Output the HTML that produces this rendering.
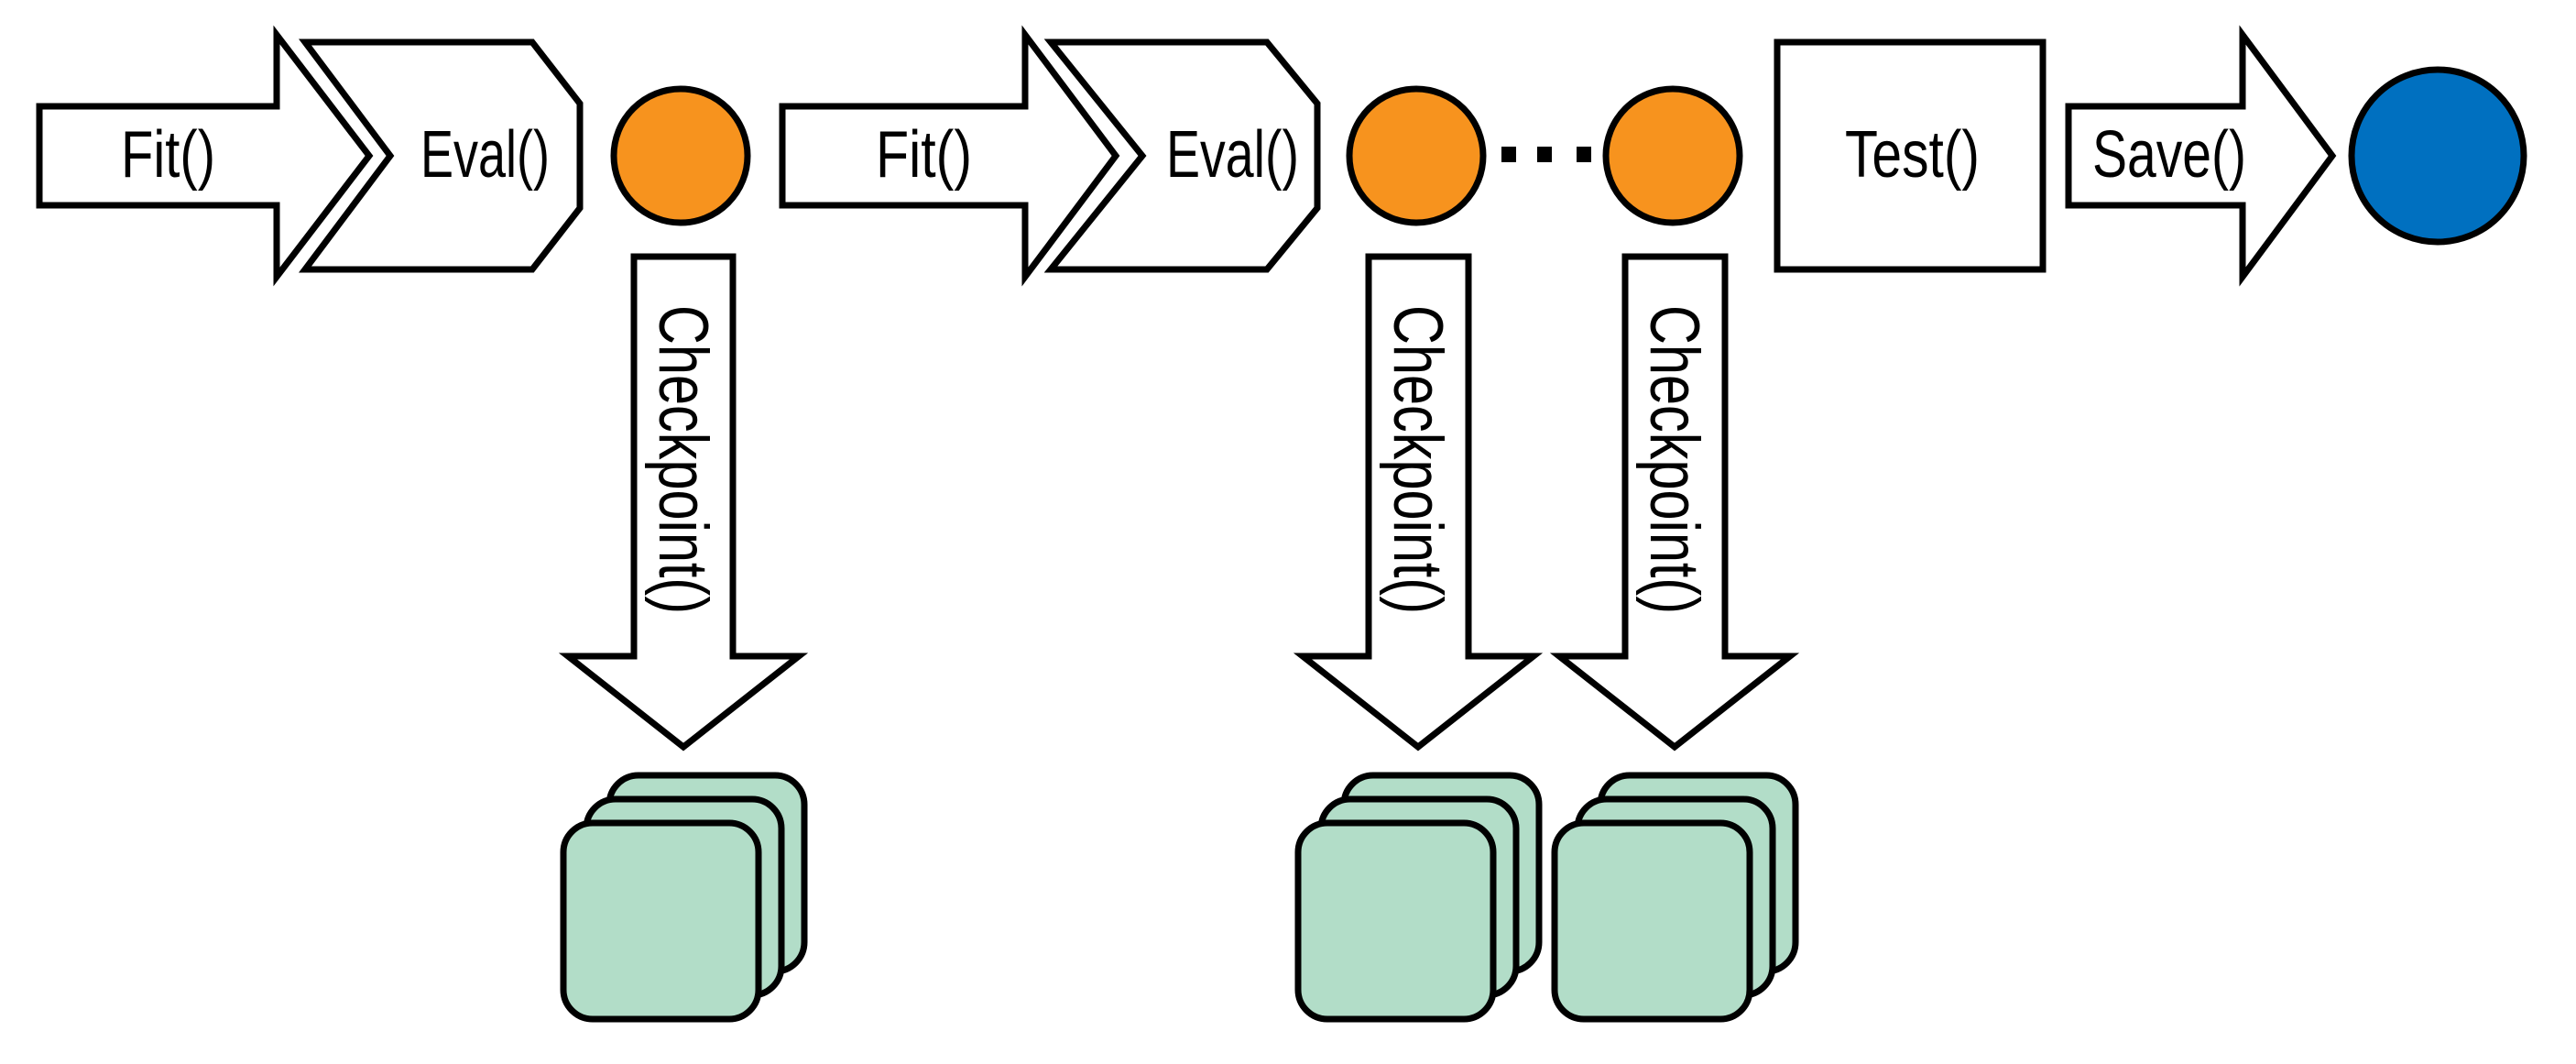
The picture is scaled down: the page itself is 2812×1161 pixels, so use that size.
<!DOCTYPE html>
<html><head><meta charset="utf-8"><style>html,body{margin:0;padding:0;background:#fff}svg{display:block}</style></head>
<body>
<svg width="2812" height="1161" viewBox="0 0 2812 1161" xmlns="http://www.w3.org/2000/svg">
<g fill="#fff" stroke="#000" stroke-width="7" stroke-linejoin="miter" stroke-miterlimit="10">
<polygon points="43,116 302,116 302,38 403,170 302,302 302,224 43,224"/>
<polygon points="333,46 581,46 633,113 633,227 581,294 333,294 426,170"/>
<polygon points="854,116 1119,116 1119,38 1218,170 1119,302 1119,224 854,224"/>
<polygon points="1147,46 1383,46 1438,113 1438,227 1383,294 1147,294 1247,170"/>
<rect x="1940" y="46" width="290" height="248"/>
<polygon points="2258,116 2448,116 2448,38 2546,170 2448,302 2448,224 2258,224"/>
<polygon points="692,280 800,280 800,716 872,716 746,815 620,716 692,716"/>
<polygon points="1494,280 1603,280 1603,716 1674,716 1548,815 1422,716 1494,716"/>
<polygon points="1774,280 1883,280 1883,716 1954,716 1828,815 1702,716 1774,716"/>
</g>
<g stroke="#000" stroke-width="7">
<circle cx="743" cy="170" r="73" fill="#F7931E"/>
<circle cx="1546" cy="170" r="73" fill="#F7931E"/>
<circle cx="1826" cy="170" r="73" fill="#F7931E"/>
<circle cx="2661" cy="170" r="94" fill="#0070C0"/>
</g>
<g fill="#000">
<rect x="1639" y="160" width="16" height="17"/>
<rect x="1678" y="160" width="16" height="17"/>
<rect x="1721" y="160" width="16" height="17"/>
</g>
<g fill="#B2DDC8" stroke="#000" stroke-width="7">
<g transform="translate(-802,0)">
<rect x="1467" y="846" width="213" height="214" rx="32"/>
<rect x="1442" y="872" width="213" height="214" rx="32"/>
<rect x="1417" y="898" width="213" height="214" rx="32"/>
</g>
<rect x="1467" y="846" width="213" height="214" rx="32"/>
<rect x="1442" y="872" width="213" height="214" rx="32"/>
<rect x="1417" y="898" width="213" height="214" rx="32"/>
<g transform="translate(280,0)">
<rect x="1467" y="846" width="213" height="214" rx="32"/>
<rect x="1442" y="872" width="213" height="214" rx="32"/>
<rect x="1417" y="898" width="213" height="214" rx="32"/>
</g>
</g>
<g font-family="Liberation Sans, sans-serif" font-size="72" fill="#000">
<text x="132" y="193" textLength="103" lengthAdjust="spacingAndGlyphs">Fit()</text>
<text x="459" y="193" textLength="141" lengthAdjust="spacingAndGlyphs">Eval()</text>
<text x="956" y="193" textLength="105" lengthAdjust="spacingAndGlyphs">Fit()</text>
<text x="1273" y="193" textLength="145" lengthAdjust="spacingAndGlyphs">Eval()</text>
<text x="2014" y="193" textLength="147" lengthAdjust="spacingAndGlyphs">Test()</text>
<text x="2284" y="193" textLength="168" lengthAdjust="spacingAndGlyphs">Save()</text>
</g>
<g font-family="Liberation Sans, sans-serif" font-size="76" fill="#000">
<text transform="translate(720,333) rotate(90)" textLength="337" lengthAdjust="spacingAndGlyphs">Checkpoint()</text>
<text transform="translate(1522,333) rotate(90)" textLength="337" lengthAdjust="spacingAndGlyphs">Checkpoint()</text>
<text transform="translate(1802,333) rotate(90)" textLength="337" lengthAdjust="spacingAndGlyphs">Checkpoint()</text>
</g>
</svg>
</body></html>
